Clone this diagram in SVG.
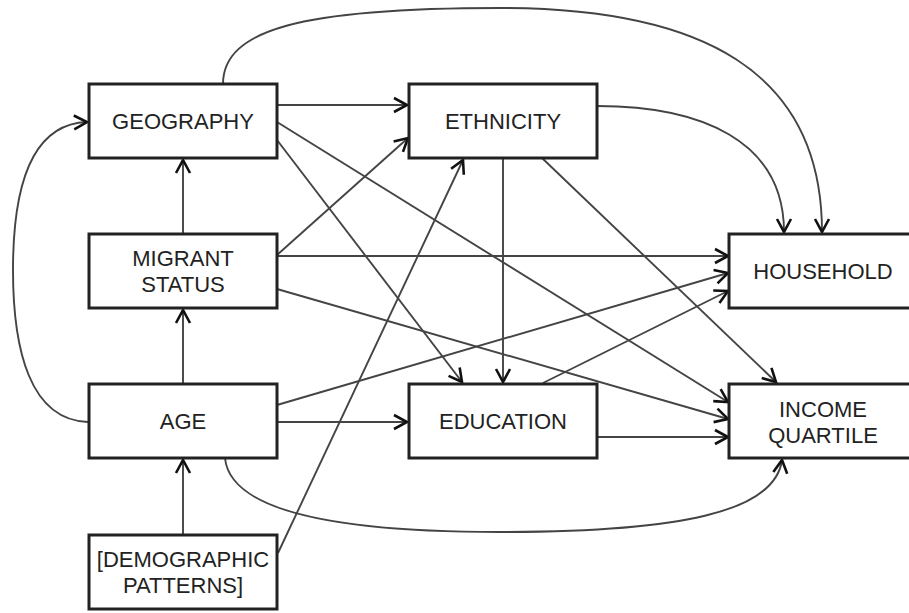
<svg xmlns="http://www.w3.org/2000/svg" width="909" height="613" viewBox="0 0 909 613">
<style>
.box{fill:#fff;stroke:#222;stroke-width:3}
.lbl{font-family:"Liberation Sans",Arial,sans-serif;font-size:22px;fill:#222;text-anchor:middle}
.c{fill:none;stroke:#444;stroke-width:1.9}
</style>
<defs>
<marker id="ah" markerUnits="userSpaceOnUse" markerWidth="20" markerHeight="20" viewBox="-16 -10 20 20" refX="0" refY="0" orient="auto">
<path d="M-13,-7 L0,0 L-13,7" fill="none" stroke="#111" stroke-width="2.6" stroke-linejoin="miter"/>
</marker>
</defs>
<rect width="909" height="613" fill="#fff"/>
<g id="connectors">
<path class="c" marker-end="url(#ah)" d="M277,105 L407,105"/>
<path class="c" marker-end="url(#ah)" d="M223,84 C223,30 300,8 500,8 C700,8 822,70 822,232"/>
<path class="c" marker-end="url(#ah)" d="M597,106 C700,106 784,140 784,232"/>
<path class="c" marker-end="url(#ah)" d="M277,122 L728,402"/>
<path class="c" marker-end="url(#ah)" d="M277,140 L462,382"/>
<path class="c" marker-end="url(#ah)" d="M503,158 L503,382"/>
<path class="c" marker-end="url(#ah)" d="M542,158 L776,382"/>
<path class="c" marker-end="url(#ah)" d="M277,255 L408,138"/>
<path class="c" marker-end="url(#ah)" d="M277,256 L728,256"/>
<path class="c" marker-end="url(#ah)" d="M277,289 L728,419"/>
<path class="c" marker-end="url(#ah)" d="M183,233 L183,160"/>
<path class="c" marker-end="url(#ah)" d="M183,383 L183,310"/>
<path class="c" marker-end="url(#ah)" d="M183,535 L183,460"/>
<path class="c" marker-end="url(#ah)" d="M278,553 L463,160"/>
<path class="c" marker-end="url(#ah)" d="M88,422 C30,420 13,350 13,270 C13,190 30,124 87,122"/>
<path class="c" marker-end="url(#ah)" d="M277,422 L407,422"/>
<path class="c" marker-end="url(#ah)" d="M277,405 L728,273"/>
<path class="c" marker-end="url(#ah)" d="M225,458 C230,510 330,532 500,532 C680,532 775,512 782,460"/>
<path class="c" marker-end="url(#ah)" d="M543,383 L728,291"/>
<path class="c" marker-end="url(#ah)" d="M597,437 L728,437"/>
</g>
<g id="geography"><rect class="box" x="89" y="84" width="188" height="74"/><text class="lbl" x="183" y="129">GEOGRAPHY</text></g>
<g id="ethnicity"><rect class="box" x="409" y="84" width="188" height="74"/><text class="lbl" x="503" y="129">ETHNICITY</text></g>
<g id="migrant-status"><rect class="box" x="89" y="234" width="188" height="74"/><text class="lbl" x="183" y="266">MIGRANT</text><text class="lbl" x="183" y="292">STATUS</text></g>
<g id="household"><rect class="box" x="729" y="234" width="188" height="74"/><text class="lbl" x="823" y="279">HOUSEHOLD</text></g>
<g id="age"><rect class="box" x="89" y="384" width="188" height="74"/><text class="lbl" x="183" y="429">AGE</text></g>
<g id="education"><rect class="box" x="409" y="384" width="188" height="74"/><text class="lbl" x="503" y="429">EDUCATION</text></g>
<g id="income-quartile"><rect class="box" x="729" y="384" width="188" height="74"/><text class="lbl" x="823" y="417">INCOME</text><text class="lbl" x="823" y="443">QUARTILE</text></g>
<g id="demographic-patterns"><rect class="box" x="89" y="535" width="188" height="74"/><text class="lbl" x="183" y="567">[DEMOGRAPHIC</text><text class="lbl" x="183" y="593">PATTERNS]</text></g>
</svg>
